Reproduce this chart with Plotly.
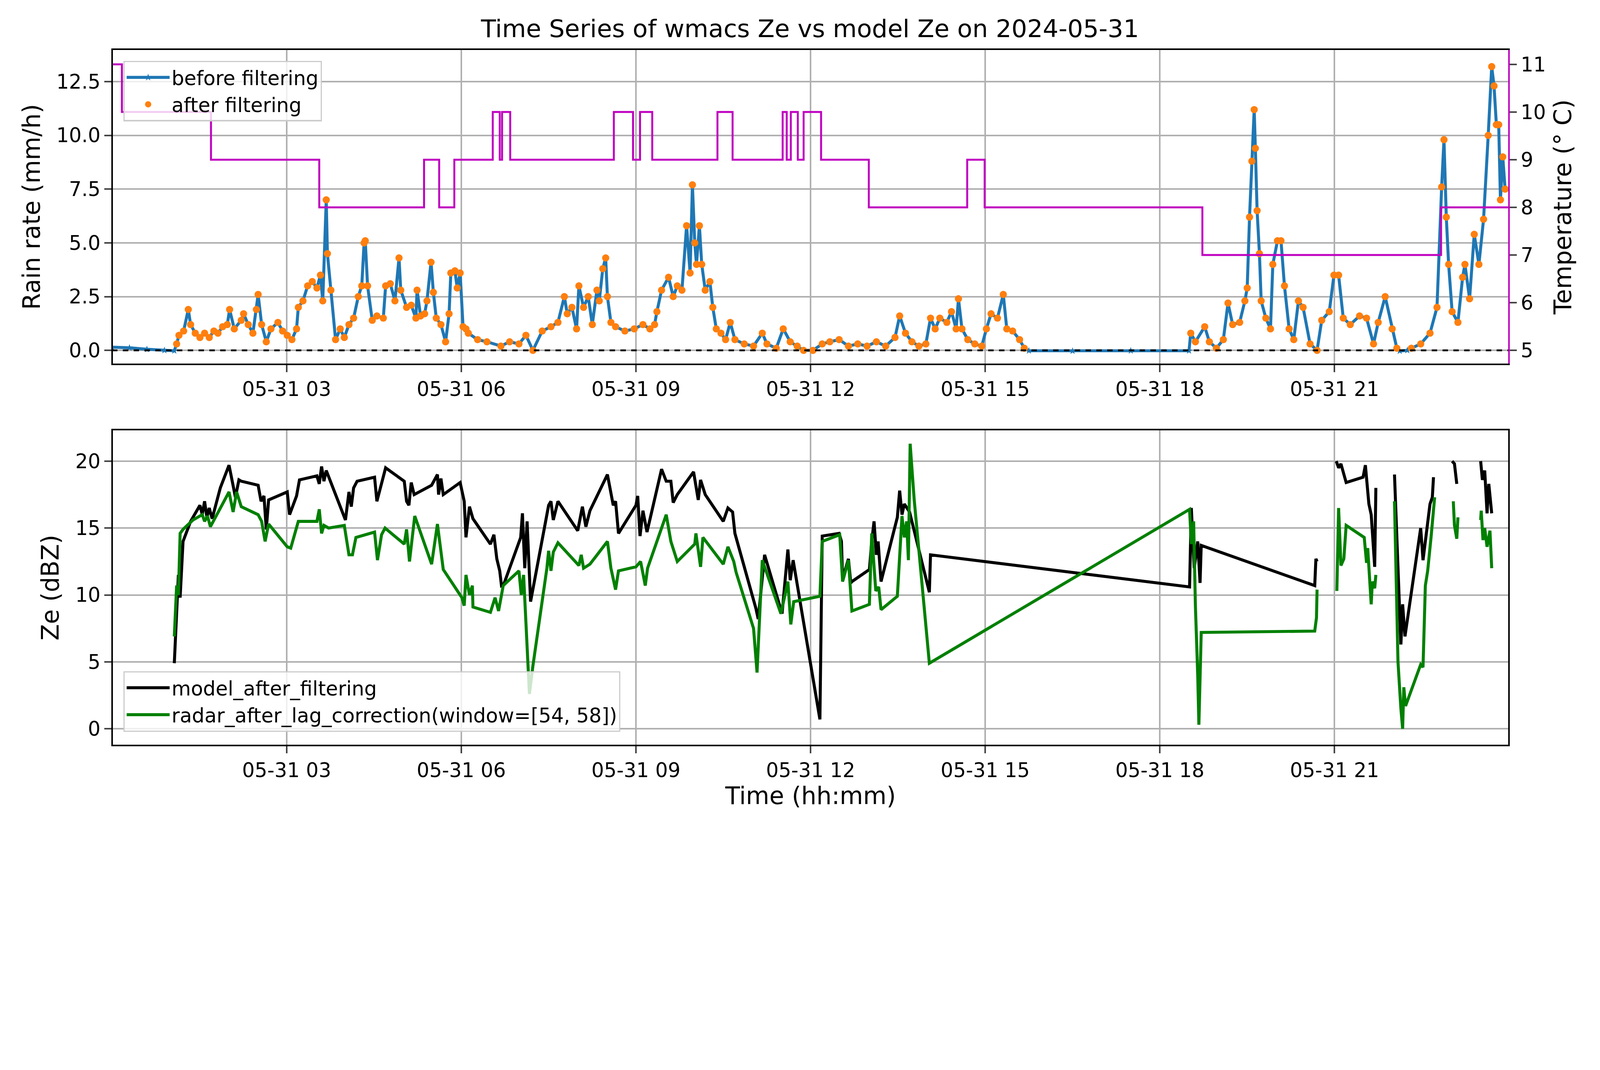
import numpy as np
import pandas as pd
import plotly.graph_objects as go

# ---- Rain rate (hours since 00:00, mm/h) ----
rain_h = [0.0, 0.3, 0.6, 0.9, 1.07,
 1.11, 1.15, 1.23, 1.31, 1.35, 1.43, 1.51, 1.59, 1.67, 1.75, 1.82, 1.90, 1.98, 2.02, 2.10, 2.22, 2.26, 2.34, 2.42, 2.48, 2.51, 2.57, 2.65, 2.73, 2.85, 2.93, 3.01, 3.09, 3.17, 3.20, 3.28, 3.36, 3.44, 3.52, 3.58, 3.62, 3.68, 3.70, 3.76, 3.84, 3.92, 3.99, 4.07, 4.15, 4.23, 4.29, 4.33, 4.35, 4.39, 4.47, 4.55, 4.66, 4.70, 4.78, 4.86, 4.93, 4.96, 5.06, 5.14, 5.22, 5.24, 5.30, 5.37, 5.41, 5.48, 5.52, 5.57, 5.65, 5.73, 5.79, 5.82, 5.89, 5.93, 5.98, 6.03, 6.08, 6.12, 6.28, 6.44, 6.68, 6.83, 6.99, 7.11, 7.23, 7.39, 7.54, 7.66, 7.77, 7.82, 7.90, 7.98, 8.02, 8.10, 8.18, 8.25, 8.33, 8.37, 8.43, 8.48, 8.51, 8.57, 8.65, 8.81, 8.97, 9.12, 9.24, 9.32, 9.36, 9.44, 9.56, 9.64, 9.71, 9.79, 9.87, 9.93, 9.97, 10.01, 10.04, 10.09, 10.13, 10.19, 10.27, 10.32, 10.38, 10.46, 10.54, 10.62, 10.70, 10.86, 11.02, 11.17, 11.25, 11.41, 11.53, 11.65, 11.77, 11.88, 12.04, 12.20,
 12.33, 12.49, 12.65, 12.81, 12.97, 13.13, 13.29, 13.45, 13.53, 13.63, 13.74, 13.86, 13.98, 14.06, 14.14, 14.22, 14.34, 14.42, 14.50, 14.54, 14.60, 14.70, 14.82, 14.94, 15.02, 15.10, 15.21, 15.31, 15.37, 15.47, 15.59, 15.67,
 15.75, 16.5, 17.5, 18.5,
 18.53, 18.61, 18.77, 18.85, 18.97, 19.09, 19.17, 19.25, 19.37, 19.46, 19.50, 19.54, 19.58, 19.62, 19.64, 19.67, 19.71, 19.74, 19.82, 19.90, 19.94, 20.02, 20.08, 20.14, 20.22, 20.30, 20.38, 20.46, 20.58, 20.70, 20.78, 20.91, 20.99, 21.07, 21.15, 21.27, 21.43, 21.55, 21.67, 21.75, 21.87, 21.99, 22.07,
 22.12, 22.25,
 22.32, 22.48, 22.64, 22.76, 22.84, 22.88, 22.92, 22.96, 23.02, 23.12, 23.20, 23.24, 23.32, 23.40, 23.48, 23.56, 23.64, 23.70, 23.74, 23.78, 23.82, 23.85, 23.89, 23.93]
rain_v = [0.15, 0.12, 0.05, 0.0, -0.02,
 0.3, 0.7, 0.9, 1.9, 1.2, 0.8, 0.6, 0.8, 0.6, 0.9, 0.8, 1.1, 1.2, 1.9, 1.0, 1.4, 1.7, 1.2, 0.8, 1.9, 2.6, 1.2, 0.4, 1.0, 1.3, 0.9, 0.7, 0.5, 1.0, 2.0, 2.3, 3.0, 3.2, 2.9, 3.5, 2.3, 7.0, 4.5, 2.8, 0.5, 1.0, 0.6, 1.2, 1.5, 2.5, 3.0, 5.0, 5.1, 3.0, 1.4, 1.6, 1.5, 3.0, 3.1, 2.3, 4.3, 2.8, 2.0, 2.1, 1.5, 2.8, 1.6, 1.7, 2.3, 4.1, 2.7, 1.5, 1.2, 0.4, 1.7, 3.6, 3.7, 2.9, 3.6, 1.1, 1.0, 0.8, 0.5, 0.4, 0.2, 0.4, 0.3, 0.7, 0.0, 0.9, 1.1, 1.3, 2.5, 1.7, 2.0, 1.0, 3.0, 2.0, 2.5, 1.2, 2.8, 2.3, 3.8, 4.3, 2.5, 1.3, 1.1, 0.9, 1.0, 1.2, 1.0, 1.2, 1.8, 2.8, 3.4, 2.5, 3.0, 2.8, 5.8, 3.6, 7.7, 5.0, 4.0, 5.8, 4.0, 2.8, 3.2, 2.0, 1.0, 0.8, 0.5, 1.3, 0.5, 0.3, 0.2, 0.8, 0.3, 0.1, 1.0, 0.4, 0.2, 0.0, 0.0, 0.3,
 0.4, 0.5, 0.2, 0.3, 0.2, 0.4, 0.2, 0.6, 1.6, 0.8, 0.4, 0.2, 0.3, 1.5, 1.0, 1.5, 1.3, 1.8, 1.0, 2.4, 1.0, 0.5, 0.3, 0.2, 1.0, 1.7, 1.5, 2.6, 1.0, 0.9, 0.5, 0.1,
 -0.02, -0.03, -0.02, -0.02,
 0.8, 0.4, 1.1, 0.4, 0.1, 0.5, 2.2, 1.2, 1.3, 2.3, 2.9, 6.2, 8.8, 11.2, 9.4, 6.5, 4.5, 2.3, 1.5, 1.0, 4.0, 5.1, 5.1, 3.0, 1.0, 0.5, 2.3, 2.0, 0.3, 0.0, 1.4, 1.8, 3.5, 3.5, 1.5, 1.2, 1.6, 1.5, 0.3, 1.3, 2.5, 1.0, 0.1,
 -0.03, 0.0,
 0.1, 0.3, 0.8, 2.0, 7.6, 9.8, 6.2, 4.0, 1.8, 1.3, 3.4, 4.0, 2.4, 5.4, 4.0, 6.1, 10.0, 13.2, 12.3, 10.5, 10.5, 7.0, 9.0, 7.5]

# ---- Temperature steps (hour of change, value after change) ----
temp_h = [0.0, 0.17, 1.7, 3.56, 5.36, 5.62, 5.88, 6.54, 6.66, 6.70, 6.84, 8.62, 8.95, 9.07, 9.28, 10.40, 10.66, 11.52, 11.59, 11.66, 11.78, 11.88, 12.18, 13.00, 14.69, 14.99, 18.73, 22.83, 24.0]
temp_v = [11, 10, 9, 8, 9, 8, 9, 10, 9, 10, 9, 10, 9, 10, 9, 10, 9, 10, 9, 10, 9, 10, 9, 8, 9, 8, 7, 8, 8]

# ---- Ze model (black) ----
model_h = [1.07, 1.14, 1.17, 1.22, 1.35, 1.51, 1.55, 1.59, 1.63, 1.67, 1.72, 1.86, 2.01, 2.08, 2.12, 2.18, 2.22, 2.51, 2.56, 2.61, 2.65, 2.69, 3.01, 3.05, 3.17, 3.22, 3.52, 3.56, 3.60, 3.64, 3.68, 4.01, 4.07, 4.11, 4.15, 4.21, 4.51, 4.55, 4.63, 4.70, 5.02, 5.06, 5.10, 5.14, 5.19, 5.49, 5.59, 5.61, 5.65, 5.69, 5.98, 6.05, 6.08, 6.14, 6.20, 6.50, 6.56, 6.61, 6.66, 6.69, 6.73, 7.02, 7.05, 7.09, 7.13, 7.19, 7.50, 7.54, 7.58, 7.66, 8.00, 8.08, 8.14, 8.21, 8.51, 8.61, 8.65, 8.70, 9.00, 9.03, 9.07, 9.12, 9.19, 9.44, 9.52, 9.60, 9.64, 9.71, 9.99, 10.07, 10.11, 10.19, 10.50, 10.58, 10.66, 10.70, 11.06, 11.10, 11.21, 11.51, 11.61, 11.65, 11.70, 12.16, 12.20, 12.49, 12.53, 12.55, 12.65, 12.69, 12.71, 13.01, 13.05, 13.09, 13.13, 13.16, 13.21, 13.49, 13.53, 13.57, 13.61, 13.70, 14.04, 14.06, 18.51, 18.54, 18.59, 18.65, 18.69, 18.71, 20.66, 20.68, 20.70, 20.85, 21.03, 21.07, 21.11, 21.20, 21.49, 21.53, 21.59, 21.63, 21.69, 21.71, 21.85, 22.03, 22.11, 22.14, 22.17, 22.21, 22.48, 22.52, 22.64, 22.68, 22.70, 22.85, 23.02, 23.06, 23.10, 23.3, 23.51, 23.54, 23.58, 23.62, 23.65, 23.70]
model_v = [4.9, 11.5, 9.8, 14.0, 15.5, 16.7, 16.0, 17.0, 15.8, 16.5, 15.7, 18.0, 19.7, 18.0, 17.3, 18.6, 18.5, 18.2, 17.0, 17.4, 14.9, 17.1, 17.7, 16.0, 17.4, 18.6, 18.9, 18.3, 19.6, 18.5, 19.3, 15.6, 17.7, 16.6, 18.0, 18.5, 18.8, 17.0, 18.4, 19.5, 18.5, 17.0, 16.7, 18.4, 17.5, 18.2, 19.0, 17.5, 18.7, 17.5, 18.4, 17.0, 14.3, 16.6, 15.7, 13.8, 14.5, 12.7, 11.8, 10.7, 10.8, 14.3, 16.1, 12.0, 15.5, 9.5, 16.7, 17.0, 15.6, 17.0, 14.8, 16.6, 15.1, 16.3, 19.0, 16.7, 17.0, 14.6, 16.7, 17.4, 14.4, 16.3, 14.7, 19.4, 18.5, 18.5, 16.9, 17.5, 19.2, 17.1, 18.6, 17.5, 15.5, 16.5, 16.2, 14.6, 9.0, 8.2, 13.0, 8.6, 13.4, 11.1, 12.6, 0.7, 14.4, 14.6, 14.0, 11.2, 12.7, 10.9, 11.0, 11.9, 14.0, 15.5, 13.0, 14.0, 11.0, 15.8, 17.8, 16.0, 16.8, 16.2, 10.2, 13.0, 10.6, 16.5, 12.0, 14.0, 10.9, 13.7, 10.7, 12.7, 12.5, None, 20.0, 19.5, 19.8, 18.4, 18.8, 19.7, 16.8, 16.0, 12.1, 18.0, None, 19.0, 10.6, 6.3, 9.3, 6.9, 15.0, 12.6, 16.8, 17.3, 18.8, None, 20.0, 19.8, 18.3, None, 20.0, 18.6, 19.3, 16.1, 18.3, 16.1]

# ---- Ze radar (green) ----
radar_h = [1.07, 1.11, 1.14, 1.17, 1.22, 1.39, 1.55, 1.59, 1.64, 1.69, 2.01, 2.08, 2.14, 2.22, 2.51, 2.57, 2.63, 2.69, 3.01, 3.07, 3.20, 3.52, 3.56, 3.60, 3.64, 3.72, 3.99, 4.07, 4.13, 4.19, 4.51, 4.56, 4.63, 4.69, 5.02, 5.06, 5.11, 5.20, 5.49, 5.59, 5.69, 6.01, 6.05, 6.08, 6.14, 6.19, 6.20, 6.50, 6.58, 6.64, 6.72, 6.99, 7.03, 7.07, 7.17, 7.23, 7.47, 7.50, 7.54, 7.58, 7.66, 8.02, 8.06, 8.10, 8.21, 8.51, 8.57, 8.65, 8.70, 9.00, 9.08, 9.16, 9.20, 9.52, 9.60, 9.71, 10.01, 10.03, 10.11, 10.15, 10.50, 10.58, 10.68, 10.72, 11.02, 11.08, 11.17, 11.49, 11.61, 11.66, 11.71, 12.16, 12.20, 12.50, 12.55, 12.65, 12.71, 13.01, 13.05, 13.12, 13.17, 13.21, 13.49, 13.57, 13.61, 13.65, 13.68, 13.71, 13.78, 14.04, 18.51, 18.54, 18.58, 18.61, 18.65, 18.67, 18.71, 20.66, 20.69, 20.70, 20.85, 21.04, 21.07, 21.11, 21.16, 21.20, 21.51, 21.55, 21.57, 21.63, 21.65, 21.69, 21.71, 21.85, 22.03, 22.09, 22.14, 22.17, 22.19, 22.22, 22.48, 22.52, 22.56, 22.60, 22.66, 22.72, 22.85, 23.04, 23.06, 23.10, 23.12, 23.3, 23.51, 23.52, 23.55, 23.58, 23.62, 23.67, 23.70]
radar_v = [6.9, 10.7, 10.0, 14.6, 14.9, 15.6, 16.0, 15.5, 15.9, 15.1, 17.7, 16.2, 17.7, 16.6, 16.0, 15.5, 14.0, 15.3, 13.6, 13.5, 15.5, 15.5, 16.4, 14.6, 15.2, 15.0, 15.2, 13.0, 13.0, 14.3, 14.7, 12.6, 14.5, 15.0, 13.8, 14.9, 12.5, 15.9, 12.3, 15.3, 11.9, 9.8, 9.2, 11.5, 10.0, 10.7, 9.1, 8.7, 9.8, 8.8, 10.7, 11.8, 10.0, 11.5, 2.6, 4.7, 12.0, 13.3, 11.8, 13.2, 13.9, 12.2, 13.0, 12.0, 12.3, 14.0, 12.0, 10.4, 11.8, 12.1, 12.5, 10.7, 12.0, 16.0, 14.0, 12.5, 13.8, 14.6, 12.1, 14.3, 12.3, 13.6, 12.5, 11.7, 7.5, 4.2, 12.6, 8.6, 11.0, 7.8, 9.5, 9.9, 14.0, 14.5, 11.0, 12.6, 8.8, 9.3, 14.6, 10.3, 10.6, 8.9, 9.9, 15.9, 14.3, 15.5, 12.6, 21.3, 17.1, 4.9, 16.4, 13.8, 15.5, 9.2, 4.0, 0.3, 7.2, 7.3, 8.3, 10.4, None, 10.3, 16.5, 12.2, 12.7, 15.2, 14.3, 12.4, 13.5, 9.3, 11.0, 10.5, 11.5, None, 17.0, 5.0, 1.5, 0.0, 3.1, 1.7, 4.8, 4.6, 10.7, 11.8, 14.4, 17.3, None, 17.0, 15.2, 14.2, 15.8, None, 15.6, 16.3, 14.1, 15.0, 13.6, 14.8, 12.0]

tick_hours = [3, 6, 9, 12, 15, 18, 21]
tick_labels = ["05-31 03", "05-31 06", "05-31 09", "05-31 12", "05-31 15", "05-31 18", "05-31 21"]

S = 1 / 1.30  # css px per target px

base = pd.Timestamp("2024-05-31")
def T(hs):
    return [base + pd.Timedelta(hours=h) for h in hs]

filt = [(h, v) for h, v in zip(rain_h, rain_v)
        if h > 1.1 and not (15.7 < h < 18.52) and not (22.1 <= h <= 22.3)]
fh = [a for a, b in filt]; fv = [b for a, b in filt]

fig = go.Figure()
fig.add_trace(go.Scatter(x=T(temp_h), y=temp_v, mode="lines", line=dict(color="#bf00bf", width=6.5*S, shape="hv"),
                         yaxis="y3", showlegend=False))
fig.add_trace(go.Scatter(x=T(rain_h), y=rain_v, mode="lines+markers", name="before filtering",
                         line=dict(color="#1f77b4", width=10*S), marker=dict(symbol="star", size=18*S, color="#1f77b4"),
                         legend="legend"))
fig.add_trace(go.Scatter(x=T(fh), y=fv, mode="markers", name="after filtering",
                         marker=dict(color="#ff7f0e", size=24*S), legend="legend"))
fig.add_trace(go.Scatter(x=T([0, 24]), y=[0, 0], mode="lines", line=dict(color="black", width=6*S, dash="dash"),
                         showlegend=False))
fig.add_trace(go.Scatter(x=T(model_h), y=model_v, mode="lines", name="model_after_filtering",
                         line=dict(color="black", width=10*S), xaxis="x2", yaxis="y2", legend="legend2"))
fig.add_trace(go.Scatter(x=T(radar_h), y=radar_v, mode="lines", name="radar_after_lag_correction(window=[54, 58])",
                         line=dict(color="green", width=10*S), xaxis="x2", yaxis="y2", legend="legend2"))

xr = [base + pd.Timedelta(minutes=1), base + pd.Timedelta(hours=23, minutes=59)]
tickvals = T(tick_hours)
FT = 66 * S
FA = 80 * S
ax = dict(range=xr, tickvals=tickvals, ticktext=tick_labels, showgrid=True, gridcolor="#b0b0b0", gridwidth=5*S,
          showline=True, linecolor="black", linewidth=5.5*S, mirror=True, ticks="outside", ticklen=23*S, tickwidth=5*S,
          tickfont=dict(size=FT, color="black"), zeroline=False)
yax = dict(showgrid=True, gridcolor="#b0b0b0", gridwidth=5*S, showline=True, linecolor="black", linewidth=5.5*S,
           mirror=True, ticks="outside", ticklen=23*S, tickwidth=5*S, tickfont=dict(size=FT, color="black"), zeroline=False)

fig.update_layout(
    width=round(5307*S), height=round(2740*S), paper_bgcolor="white", plot_bgcolor="white",
    margin=dict(l=0, r=0, t=0, b=0),
    font=dict(family="DejaVu Sans", color="black"),
    title=dict(text="Time Series of wmacs Ze vs model Ze on 2024-05-31", x=0.506, xanchor="center",
               y=0.969, yanchor="middle", font=dict(size=82*S)),
    xaxis=dict(domain=[0.0689, 0.9439], anchor="y", **ax),
    yaxis=dict(domain=[0.562, 0.943], range=[-0.62, 13.97], tickvals=[0, 2.5, 5, 7.5, 10, 12.5],
               ticktext=["0.0", "2.5", "5.0", "7.5", "10.0", "12.5"],
               title=dict(text="Rain rate (mm/h)", font=dict(size=FA), standoff=30*S), **yax),
    yaxis3=dict(overlaying="y", side="right", anchor="x", range=[4.72, 11.3], tickvals=[5, 6, 7, 8, 9, 10, 11],
                showgrid=False, showline=True, linecolor="#bf00bf", linewidth=5.5*S, ticks="outside", ticklen=23*S,
                tickwidth=5*S, tickfont=dict(size=FT, color="black"), zeroline=False,
                title=dict(text="Temperature (° C)", font=dict(size=FA), standoff=30*S)),
    xaxis2=dict(domain=[0.0689, 0.9439], anchor="y2",
                title=dict(text="Time (hh:mm)", font=dict(size=FA), standoff=20*S), **ax),
    yaxis2=dict(domain=[0.099, 0.481], range=[-1.2, 22.3], tickvals=[0, 5, 10, 15, 20],
                title=dict(text="Ze (dBZ)", font=dict(size=FA), standoff=30*S), **yax),
    legend=dict(x=0.0755, y=0.93, xanchor="left", yanchor="top", bgcolor="rgba(255,255,255,0.8)",
                bordercolor="#cccccc", borderwidth=4*S, font=dict(size=FT), tracegroupgap=0,
                itemwidth=110),
    legend2=dict(x=0.0755, y=0.115, xanchor="left", yanchor="bottom", bgcolor="rgba(255,255,255,0.8)",
                 bordercolor="#cccccc", borderwidth=4*S, font=dict(size=FT), itemwidth=110),
)
fig.write_html("out.html")
